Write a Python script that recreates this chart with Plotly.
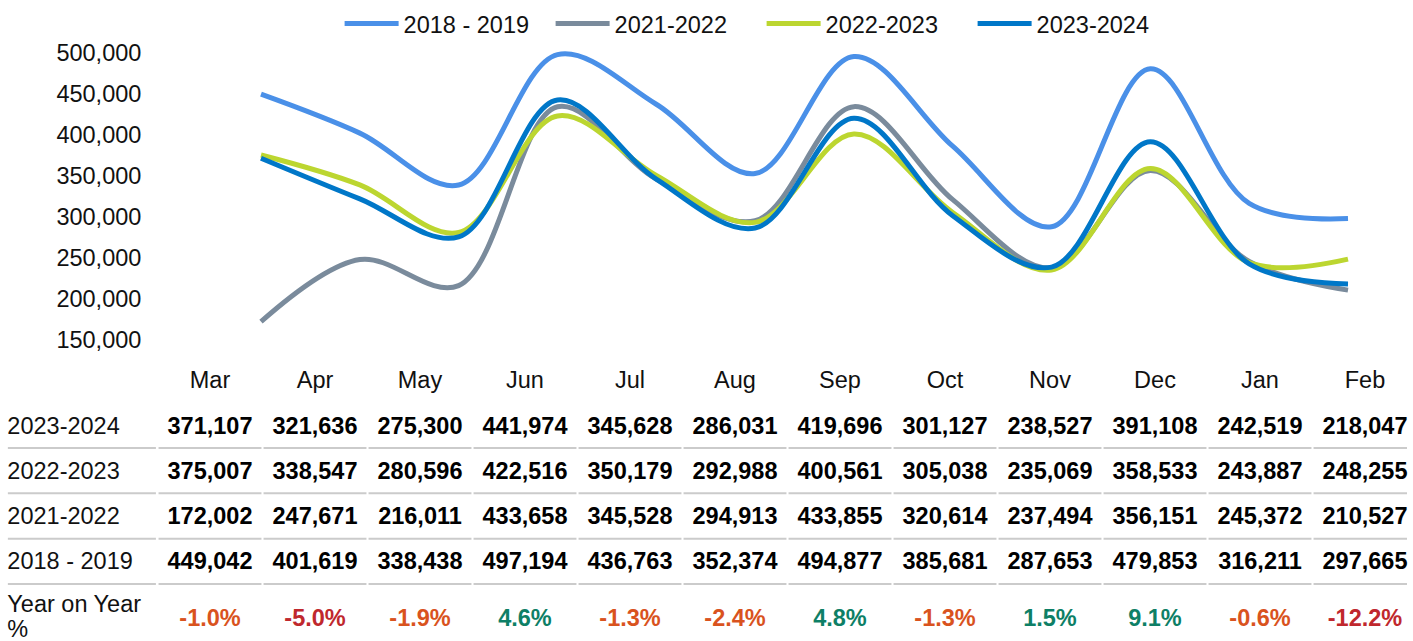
import plotly.graph_objects as go

# ---------------- data ----------------
months = ["Mar", "Apr", "May", "Jun", "Jul", "Aug", "Sep", "Oct", "Nov", "Dec", "Jan", "Feb"]

s_2018_2019 = [449042, 401619, 338438, 497194, 436763, 352374, 494877, 385681, 287653, 479853, 316211, 297665]
s_2021_2022 = [172002, 247671, 216011, 433658, 345528, 294913, 433855, 320614, 237494, 356151, 245372, 210527]
s_2022_2023 = [375007, 338547, 280596, 422516, 350179, 292988, 400561, 305038, 235069, 358533, 243887, 248255]
s_2023_2024 = [371107, 321636, 275300, 441974, 345628, 286031, 419696, 301127, 238527, 391108, 242519, 218047]

legend_names = ["2018 - 2019", "2021-2022", "2022-2023", "2023-2024"]
table_row_names = ["2023-2024", "2022-2023", "2021-2022", "2018 - 2019"]
yoy_row_lines = ["Year on Year", "%"]

y_tick_values = [150000, 200000, 250000, 300000, 350000, 400000, 450000, 500000]

# ---------------- styles ----------------
FONT = "Liberation Sans, Arial, sans-serif"
FS = 23.5
line_colors = ["#4A90E8", "#7A8B9C", "#BCD630", "#0077C8"]
ORANGE = "#D9531E"
RED = "#C0282D"
GREEN = "#0E7F66"
SEP = "#CBCBCB"

W, H = 1413, 641

fig = go.Figure()

# ---------------- line chart ----------------
line_series = [s_2018_2019, s_2021_2022, s_2022_2023, s_2023_2024]
idx = list(range(len(months)))
for name, vals, col in zip(legend_names, line_series, line_colors):
    fig.add_trace(go.Scatter(
        x=idx, y=vals, name=name, mode="lines",
        line=dict(color=col, width=5, shape="spline", smoothing=1),
        hoverinfo="skip",
    ))

# ---------------- data table (on its own axes) ----------------
table_series = [s_2023_2024, s_2022_2023, s_2021_2022, s_2018_2019]
TXT_DY = 0.05

fig.add_trace(go.Scatter(
    x=idx, y=[0 + TXT_DY] * len(months), text=months, mode="text",
    textposition="middle center",
    textfont=dict(family=FONT, size=FS, color="#111111"),
    xaxis="x2", yaxis="y2", showlegend=False, hoverinfo="skip", cliponaxis=False,
))

LABEL_X = -1.93
for r, (rname, vals) in enumerate(zip(table_row_names, table_series), start=1):
    fig.add_trace(go.Scatter(
        x=idx, y=[r + TXT_DY] * len(vals), text=[f"{v:,}" for v in vals], mode="text",
        textposition="middle center",
        textfont=dict(family=FONT, size=FS, color="#000000", weight="bold"),
        xaxis="x2", yaxis="y2", showlegend=False, hoverinfo="skip", cliponaxis=False,
    ))
    fig.add_trace(go.Scatter(
        x=[LABEL_X], y=[r + TXT_DY], text=[rname], mode="text",
        textposition="middle right",
        textfont=dict(family=FONT, size=FS, color="#111111"),
        xaxis="x2", yaxis="y2", showlegend=False, hoverinfo="skip", cliponaxis=False,
    ))

yoy = [round((a / b - 1) * 100, 1) for a, b in zip(s_2023_2024, s_2022_2023)]
yoy_colors = [GREEN if p > 0 else (RED if p <= -5 else ORANGE) for p in yoy]
YOY_Y = 5.29
fig.add_trace(go.Scatter(
    x=idx, y=[YOY_Y] * len(yoy), text=[f"{p:.1f}%" for p in yoy], mode="text",
    textposition="middle center",
    textfont=dict(family=FONT, size=FS, color=yoy_colors, weight="bold"),
    xaxis="x2", yaxis="y2", showlegend=False, hoverinfo="skip", cliponaxis=False,
))
fig.add_trace(go.Scatter(
    x=[LABEL_X, LABEL_X], y=[4.985, 5.55], text=yoy_row_lines, mode="text",
    textposition="middle right",
    textfont=dict(family=FONT, size=FS, color="#111111"),
    xaxis="x2", yaxis="y2", showlegend=False, hoverinfo="skip", cliponaxis=False,
))

shapes = []
for yy in [1.5, 2.5, 3.5, 4.5]:
    shapes.append(dict(type="line", xref="x2", yref="y2", x0=-1.925, x1=-0.515, y0=yy, y1=yy,
                       line=dict(color=SEP, width=2)))
    for k in idx:
        shapes.append(dict(type="line", xref="x2", yref="y2", x0=k - 0.49, x1=k + 0.49, y0=yy, y1=yy,
                           line=dict(color=SEP, width=2)))

# ---------------- geometry ----------------
px_per_pt = (1348 - 261) / 11
xr = [-0.3, 11.3]
x_dom = [(261 + xr[0] * px_per_pt) / W, (261 + xr[1] * px_per_pt) / W]

Y500, Y150 = 49.0, 340.6
px_per_k = (Y150 - Y500) / 350.0
yr = [140000, 510000]
y_top_px = Y500 - (yr[1] / 1000 - 500) * px_per_k
y_bot_px = Y150 + (150 - yr[0] / 1000) * px_per_k
y_dom = [(H - y_bot_px) / H, (H - y_top_px) / H]

col_w = 105.0
x2r = [-1.99, 11.4]
x2_dom = [(210 + x2r[0] * col_w) / W, (210 + x2r[1] * col_w) / W]
row_h = 45.97
P0 = 381.4
top2_px = 350.0
y2_dom = [0, (H - top2_px) / H]
y2r = [(H - P0) / row_h, (top2_px - P0) / row_h]

fig.update_layout(
    width=W, height=H,
    margin=dict(l=0, r=0, t=0, b=0),
    paper_bgcolor="white", plot_bgcolor="white",
    font=dict(family=FONT, size=FS, color="#111111"),
    showlegend=True,
    legend=dict(orientation="h", x=0.539, xanchor="center", y=1 - 20.0 / H, yanchor="middle",
                font=dict(family=FONT, size=FS, color="#111111"),
                itemwidth=54, entrywidth=142, entrywidthmode="pixels", tracegroupgap=0,
                bgcolor="rgba(0,0,0,0)"),
    xaxis=dict(domain=x_dom, range=xr, visible=False, showgrid=False, zeroline=False),
    yaxis=dict(domain=y_dom, range=yr, tickvals=y_tick_values, tickformat=",",
               showgrid=False, zeroline=False, showline=False, ticks="",
               ticklabelstandoff=89,
               tickfont=dict(family=FONT, size=FS, color="#111111")),
    xaxis2=dict(domain=x2_dom, range=x2r, visible=False, anchor="y2", showgrid=False, zeroline=False),
    yaxis2=dict(domain=y2_dom, range=y2r, visible=False, anchor="x2", showgrid=False, zeroline=False),
    shapes=shapes,
)

fig.write_html("out.html", config={"displayModeBar": False},
               post_script="document.body.style.margin='0';document.body.style.overflow='hidden';")
